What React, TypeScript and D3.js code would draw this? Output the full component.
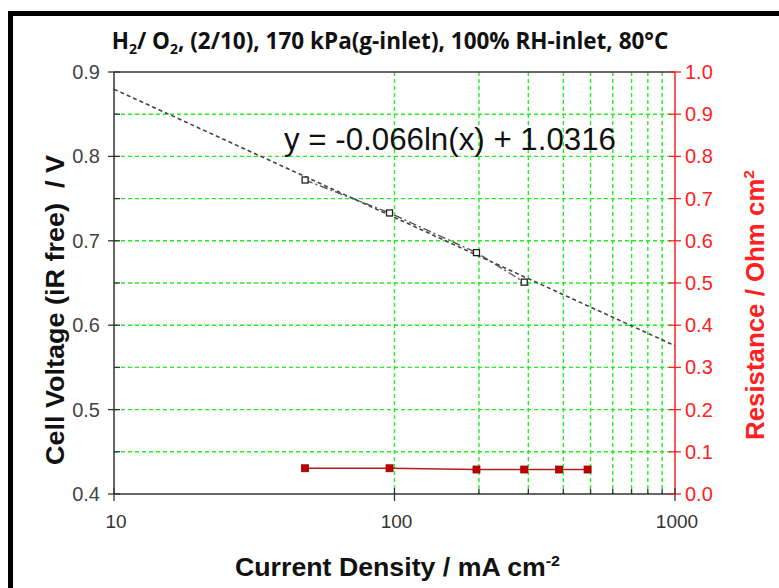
import React from "react";
import * as d3 from "d3";

const vCurrent = [48, 96, 196, 290];
const voltage = [0.772, 0.733, 0.686, 0.651];
const rCurrent = [48, 96, 196, 290, 386, 488];
const resistance = [0.061, 0.061, 0.058, 0.058, 0.058, 0.058];
const fitA = -0.066;
const fitB = 1.0316;
const leftTicks = [0.4, 0.5, 0.6, 0.7, 0.8, 0.9];
const leftMinor = [0.45, 0.55, 0.65, 0.75, 0.85];
const rightTicks = [0, 0.1, 0.2, 0.3, 0.4, 0.5, 0.6, 0.7, 0.8, 0.9, 1.0];
const xMajor = [10, 100, 1000];
const xMinor = [200, 300, 400, 500, 600, 700, 800, 900];
const hGrid = [0.45, 0.5, 0.55, 0.6, 0.65, 0.7, 0.75, 0.8, 0.85];

const W = 779, H = 588;
const L = 114, R = 675, T = 72, B = 494;

export default function App() {
  const x = d3.scaleLog().domain([10, 1000]).range([L, R]);
  const yL = d3.scaleLinear().domain([0.4, 0.9]).range([B, T]);
  const yR = d3.scaleLinear().domain([0, 1]).range([B, T]);

  const fitX = d3.range(0, 101).map((i) => 10 * Math.pow(100, i / 100));
  const fitLine = d3.line<number>().x((d) => x(d)).y((d) => yL(fitA * Math.log(d) + fitB));
  const vLine = d3.line<number>().x((d, i) => x(vCurrent[i])).y((d) => yL(d));
  const rLine = d3.line<number>().x((d, i) => x(rCurrent[i])).y((d) => yR(d));

  const green = "#22ee22";
  const red = "#ff2020";
  const font = "'Liberation Sans', Arial, sans-serif";

  return (
    <svg width={W} height={H} style={{ position: "absolute", left: 0, top: 0, background: "#fff" }}>
      <rect x={0} y={0} width={W} height={H} fill="#fff" />
      <path d={`M10.5,${H} L10.5,13.5 L${W},13.5`} fill="none" stroke="#000" strokeWidth={5} />
      <text x={390} y={49} textAnchor="middle" fontFamily="'Open Sans', 'Noto Sans', sans-serif" fontWeight="bold" fontSize={22.5} fill="#111">
        H<tspan fontSize={14} dy={5}>2</tspan><tspan dy={-5}>/ O</tspan><tspan fontSize={14} dy={5}>2</tspan><tspan dy={-5}>, (2/10), 170 kPa(g-inlet), 100% RH-inlet, 80°C</tspan>
      </text>

      {/* grid */}
      {hGrid.map((v) => (
        <line key={"h" + v} x1={L} x2={R} y1={yL(v)} y2={yL(v)} stroke={green} strokeWidth={1.4} strokeDasharray="4,3" />
      ))}
      {[100, ...xMinor].map((v) => (
        <line key={"v" + v} x1={x(v)} x2={x(v)} y1={T} y2={B} stroke={green} strokeWidth={1.4} strokeDasharray="4,3" />
      ))}

      {/* plot frame */}
      <line x1={L} x2={R} y1={T} y2={T} stroke="#333" strokeWidth={1.5} />
      <line x1={L} x2={L} y1={T} y2={B} stroke="#333" strokeWidth={1.5} />
      <line x1={L} x2={R} y1={B} y2={B} stroke="#333" strokeWidth={1.5} />
      <line x1={R} x2={R} y1={T} y2={B} stroke={red} strokeWidth={1.5} />

      {/* left axis */}
      {leftTicks.map((v) => (
        <g key={"lt" + v}>
          <line x1={L - 6} x2={L + 6} y1={yL(v)} y2={yL(v)} stroke="#333" strokeWidth={1.3} />
          <text x={100} y={yL(v) + 7} textAnchor="end" fontFamily={font} fontSize={20} fill="#444">{v.toFixed(1)}</text>
        </g>
      ))}
      {leftMinor.map((v) => (
        <line key={"lm" + v} x1={L} x2={L + 6} y1={yL(v)} y2={yL(v)} stroke="#333" strokeWidth={1.3} />
      ))}

      {/* right axis */}
      {rightTicks.map((v) => (
        <g key={"rt" + v}>
          <line x1={R - 6} x2={R + 6} y1={yR(v)} y2={yR(v)} stroke={red} strokeWidth={1.3} />
          <text x={685} y={yR(v) + 7} textAnchor="start" fontFamily={font} fontSize={20} fill={red}>{v.toFixed(1)}</text>
        </g>
      ))}

      {/* bottom axis */}
      {xMajor.map((v) => (
        <g key={"xm" + v}>
          <line x1={x(v)} x2={x(v)} y1={B - 6} y2={B + 7} stroke="#333" strokeWidth={1.3} />
          <text x={x(v) + 2} y={528} textAnchor="middle" fontFamily={font} fontSize={19} fill="#333">{v}</text>
        </g>
      ))}
      {xMinor.map((v) => (
        <line key={"xn" + v} x1={x(v)} x2={x(v)} y1={B - 5} y2={B} stroke="#333" strokeWidth={1.3} />
      ))}

      {/* fit line */}
      <path d={fitLine(fitX) || ""} fill="none" stroke="#444" strokeWidth={1.6} strokeDasharray="4,3" />
      {/* voltage series */}
      <path d={vLine(voltage) || ""} fill="none" stroke="#555" strokeWidth={1.4} strokeDasharray="8,3,2,3" />
      {voltage.map((v, i) => (
        <rect key={"vp" + i} x={x(vCurrent[i]) - 3} y={yL(v) - 3} width={6} height={6} fill="#fff" stroke="#222" strokeWidth={1.3} />
      ))}

      {/* resistance series */}
      <path d={rLine(resistance) || ""} fill="none" stroke="#b02020" strokeWidth={1.5} />
      {resistance.map((v, i) => (
        <rect key={"rp" + i} x={x(rCurrent[i]) - 3.5} y={yR(v) - 3.5} width={7} height={7} fill="#c00000" stroke="#900" strokeWidth={0.8} />
      ))}

      {/* equation */}
      <text x={284} y={150} fontFamily={font} fontSize={31} fill="#111" textLength={332} lengthAdjust="spacingAndGlyphs">y = -0.066ln(x) + 1.0316</text>

      {/* axis titles */}
      <text x={235} y={576} fontFamily={font} fontWeight="bold" fontSize={25} fill="#111" textLength={325} lengthAdjust="spacingAndGlyphs">
        Current Density / mA cm<tspan fontSize={15} dy={-10}>-2</tspan>
      </text>
      <text transform="translate(64,465) rotate(-90)" fontFamily={font} fontWeight="bold" fontSize={26} fill="#111" textLength={310} lengthAdjust="spacingAndGlyphs" style={{ whiteSpace: "pre" }}>
        {"Cell Voltage (iR free)  / V"}
      </text>
      <text transform="translate(764,440) rotate(-90)" fontFamily={font} fontWeight="bold" fontSize={25} fill={red} textLength={270} lengthAdjust="spacingAndGlyphs">
        Resistance / Ohm cm<tspan fontSize={15} dy={-10}>2</tspan>
      </text>
    </svg>
  );
}
